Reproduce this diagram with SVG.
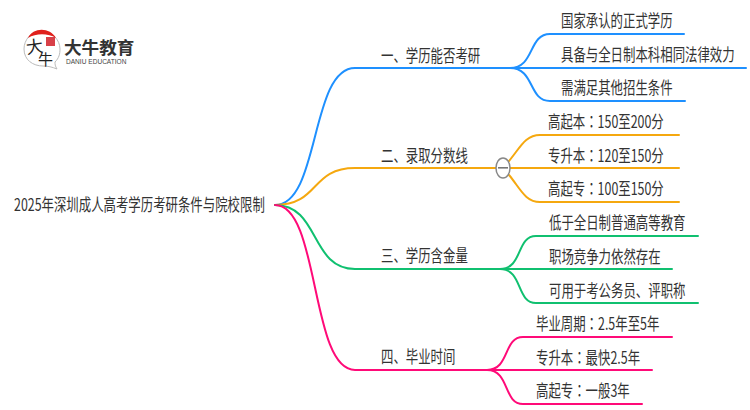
<svg xmlns="http://www.w3.org/2000/svg" width="750" height="410" viewBox="0 0 750 410">
<style>
text{font-family:"Noto Sans CJK SC","Liberation Sans",sans-serif;fill:#333;font-size:17px}
.tc{font-family:"Noto Sans CJK TC",sans-serif}
.c{fill:none;stroke-width:2;stroke-linecap:round}
.b{stroke:#1e90ff}.o{stroke:#f5a80f}.g{stroke:#10c070}.p{stroke:#ff0a78}
</style>
<rect width="750" height="410" fill="#fff"/>
<g id="logo">
<path d="M41 31C31 31 24 40 24 49C24 60 33 66 43 66C48 66 52 67 57 69C55 66 55 64 55 62C59 58 60 54 60 49C60 40 52 31 41 31Z" fill="#fff" stroke="#bbb" stroke-width="1"/>
<path d="M28 38C33 27 50 27 56 38C48 33 36 33 28 38Z" fill="#e0201c"/>
<rect x="46" y="37" width="9" height="9" fill="#d84048"/>
<text transform="translate(27 54) rotate(-8)" style="font-size:17px;fill:#222">大</text>
<text x="38" y="65" style="font-size:15px;fill:#222">牛</text>
<text transform="translate(64 54) scale(1 1)" style="font-size:17.6px;font-weight:700;fill:#333">大牛教育</text>
<text transform="translate(66 64) scale(.94 1)" style="font-size:7px;font-family:'Liberation Sans',sans-serif;fill:#444">DANIU EDUCATION</text>
</g>
<g id="connectors">
<path class="c b" d="M275 205C320 205 310 68 355 68H510"/>
<path class="c o" d="M275 205C320 205 310 168 355 168H496"/>
<path class="c g" d="M275 205C320 205 310 269 355 269H500"/>
<path class="c p" d="M275 205C320 205 310 370 355 370H487"/>
<path class="c b" d="M510 68C535 68 528 34 550 34H684"/>
<path class="c b" d="M510 68H746"/>
<path class="c b" d="M510 68C535 68 528 101 550 101H685"/>
<path class="c o" d="M509 161C520 148 525 135 540 135H679"/>
<path class="c o" d="M510 168H679"/>
<path class="c o" d="M509 175C520 188 525 202 540 202H679"/>
<path class="c g" d="M500 269C523 269 516 236 536 236H698"/>
<path class="c g" d="M500 269H672"/>
<path class="c g" d="M500 269C523 269 516 303 536 303H698"/>
<path class="c p" d="M487 370C510 370 503 337 523 337H672"/>
<path class="c p" d="M487 370H652"/>
<path class="c p" d="M487 370C510 370 503 404 523 404H642"/>
</g>
<g id="collapse"><ellipse cx="503" cy="168" rx="7" ry="10" fill="#fff" stroke="#888" stroke-width="1.5"/><rect x="498" y="167" width="10" height="1.6" fill="#777"/></g>
<g id="root"><text transform="translate(14 211) scale(.73 1)">2025年深圳成人高考学历考研条件与院校限制</text></g>
<g id="n1"><text transform="translate(381 62) scale(.73 1)">一、学历能否考研</text></g>
<g id="n2"><text transform="translate(381 162) scale(.73 1)">二、录取分数线</text></g>
<g id="n3"><text transform="translate(381 262) scale(.73 1)">三、学历含金量</text></g>
<g id="n4"><text transform="translate(381 363) scale(.73 1)">四、毕业时间</text></g>
<g id="n11"><text transform="translate(561 27) scale(.73 1)">国家承认的正式学历</text></g>
<g id="n12"><text transform="translate(561 61) scale(.73 1)">具备与全日制本科相同法律效力</text></g>
<g id="n13"><text transform="translate(561 94) scale(.73 1)">需满足其他招生条件</text></g>
<g id="n21"><text transform="translate(548 128) scale(.73 1)">高起本<tspan class="tc">：</tspan>150至200分</text></g>
<g id="n22"><text transform="translate(548 162) scale(.73 1)">专升本<tspan class="tc">：</tspan>120至150分</text></g>
<g id="n23"><text transform="translate(548 195) scale(.73 1)">高起专<tspan class="tc">：</tspan>100至150分</text></g>
<g id="n31"><text transform="translate(549 229) scale(.73 1)">低于全日制普通高等教育</text></g>
<g id="n32"><text transform="translate(549 263) scale(.73 1)">职场竞争力依然存在</text></g>
<g id="n33"><text transform="translate(549 297) scale(.73 1)">可用于考公务员、评职称</text></g>
<g id="n41"><text transform="translate(536 330) scale(.73 1)">毕业周期<tspan class="tc">：</tspan>2.5年至5年</text></g>
<g id="n42"><text transform="translate(536 364) scale(.73 1)">专升本<tspan class="tc">：</tspan>最快2.5年</text></g>
<g id="n43"><text transform="translate(536 397) scale(.73 1)">高起专<tspan class="tc">：</tspan>一般3年</text></g>
</svg>
